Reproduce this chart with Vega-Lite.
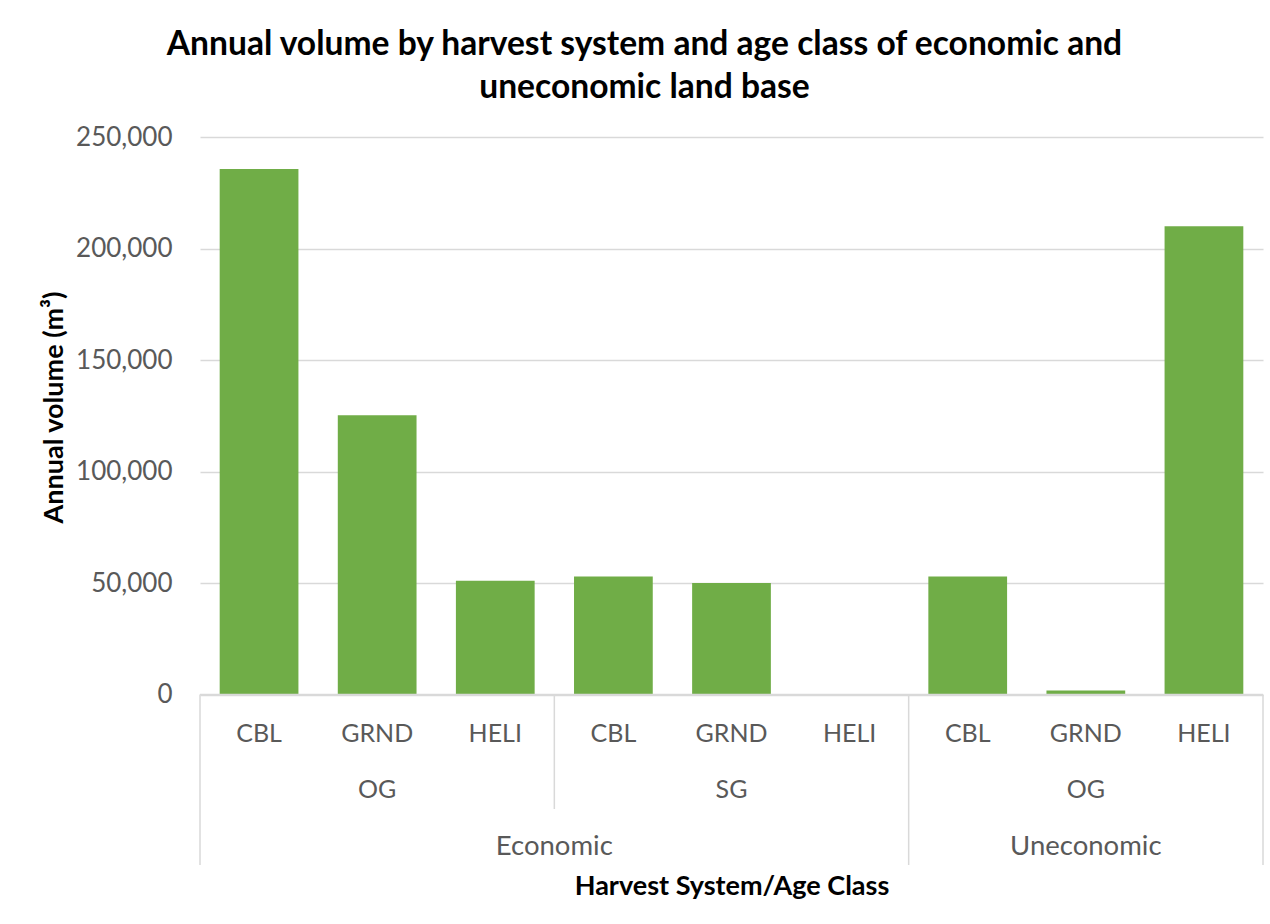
{
  "$schema": "https://vega.github.io/schema/vega-lite/v6.json",
  "autosize": "none",
  "width": 1063,
  "height": 728,
  "padding": {"left": 200, "top": 137, "right": 7, "bottom": 59},
  "background": "white",
  "config": {
    "font": "Lato",
    "view": {"stroke": null}
  },
  "title": {
    "text": ["Annual volume by harvest system and age class of economic and", "uneconomic land base"],
    "fontSize": 33.6,
    "fontWeight": "bold",
    "font": "Lato",
    "color": "#000000",
    "lineHeight": 43,
    "anchor": "middle",
    "dx": -87,
    "offset": 19
  },
  "datasets": {
    "bars": [
      {"id": "E-OG-CBL", "system": "CBL", "age": "OG", "econ": "Economic", "volume": 235700},
      {"id": "E-OG-GRND", "system": "GRND", "age": "OG", "econ": "Economic", "volume": 125300},
      {"id": "E-OG-HELI", "system": "HELI", "age": "OG", "econ": "Economic", "volume": 51000},
      {"id": "E-SG-CBL", "system": "CBL", "age": "SG", "econ": "Economic", "volume": 52900},
      {"id": "E-SG-GRND", "system": "GRND", "age": "SG", "econ": "Economic", "volume": 50000},
      {"id": "E-SG-HELI", "system": "HELI", "age": "SG", "econ": "Economic", "volume": 0},
      {"id": "U-OG-CBL", "system": "CBL", "age": "OG", "econ": "Uneconomic", "volume": 52900},
      {"id": "U-OG-GRND", "system": "GRND", "age": "OG", "econ": "Uneconomic", "volume": 1800},
      {"id": "U-OG-HELI", "system": "HELI", "age": "OG", "econ": "Uneconomic", "volume": 210000}
    ]
  },
  "layer": [
    {
      "data": {"name": "bars"},
      "mark": {"type": "bar", "color": "#70AD47"},
      "encoding": {
        "x": {
          "field": "id", "type": "nominal", "sort": null,
          "scale": {"paddingInner": 0.3333, "paddingOuter": 0.16667},
          "axis": {"labels": false, "ticks": false, "domain": false, "title": "Harvest System/Age Class", "titleFontSize": 27, "titleFontWeight": "bold", "titleColor": "#000000", "titlePadding": 8, "titleFont": "Lato"}
        },
        "y": {
          "field": "volume", "type": "quantitative",
          "scale": {"domain": [-76400, 250000], "nice": false, "zero": false},
          "axis": {
            "values": [0, 50000, 100000, 150000, 200000, 250000],
            "format": ",d",
            "domain": false, "ticks": false,
            "labelFontSize": 26, "labelColor": "#595959", "labelPadding": 28, "labelFont": "Lato",
            "gridColor": "#D9D9D9", "gridWidth": 1.3,
            "title": "Annual volume (m³)",
            "titleFontSize": 27, "titleFontWeight": "bold", "titleColor": "#000000", "titleFont": "Lato",
            "titleX": -146, "titleY": 270, "titleAngle": -90, "titleAlign": "center", "titleBaseline": "middle"
          }
        }
      }
    },
    {
      "data": {"values": [{}]},
      "mark": {"type": "rule", "color": "#D9D9D9", "strokeWidth": 1.5},
      "encoding": {"y": {"datum": 0}}
    },
    {
      "data": {"values": [{"id": "E-OG-CBL"}, {"id": "U-OG-CBL"}]},
      "mark": {"type": "rule", "color": "#D9D9D9", "strokeWidth": 1.5},
      "encoding": {
        "x": {"field": "id", "type": "nominal", "bandPosition": -0.25},
        "y": {"datum": 0},
        "y2": {"datum": -76400}
      }
    },
    {
      "data": {"values": [{"id": "U-OG-HELI"}]},
      "mark": {"type": "rule", "color": "#D9D9D9", "strokeWidth": 1.5},
      "encoding": {
        "x": {"field": "id", "type": "nominal", "bandPosition": 1.25},
        "y": {"datum": 0},
        "y2": {"datum": -76400}
      }
    },
    {
      "data": {"values": [{"id": "E-SG-CBL"}]},
      "mark": {"type": "rule", "color": "#D9D9D9", "strokeWidth": 1.5},
      "encoding": {
        "x": {"field": "id", "type": "nominal", "bandPosition": -0.25},
        "y": {"datum": 0},
        "y2": {"datum": -51300}
      }
    },
    {
      "data": {"name": "bars"},
      "mark": {"type": "text", "fontSize": 25, "color": "#595959", "baseline": "middle", "align": "center"},
      "encoding": {
        "x": {"field": "id", "type": "nominal"},
        "y": {"datum": -17700},
        "text": {"field": "system"}
      }
    },
    {
      "data": {"values": [{"id": "E-OG-GRND", "label": "OG"}, {"id": "E-SG-GRND", "label": "SG"}, {"id": "U-OG-GRND", "label": "OG"}]},
      "mark": {"type": "text", "fontSize": 25, "color": "#595959", "baseline": "middle", "align": "center"},
      "encoding": {
        "x": {"field": "id", "type": "nominal"},
        "y": {"datum": -42800},
        "text": {"field": "label"}
      }
    },
    {
      "data": {"values": [{"id": "E-SG-CBL", "label": "Economic"}]},
      "mark": {"type": "text", "fontSize": 27.5, "color": "#595959", "baseline": "middle", "align": "center"},
      "encoding": {
        "x": {"field": "id", "type": "nominal", "bandPosition": -0.25},
        "y": {"datum": -68300},
        "text": {"field": "label"}
      }
    },
    {
      "data": {"values": [{"id": "U-OG-GRND", "label": "Uneconomic"}]},
      "mark": {"type": "text", "fontSize": 27.5, "color": "#595959", "baseline": "middle", "align": "center"},
      "encoding": {
        "x": {"field": "id", "type": "nominal"},
        "y": {"datum": -68300},
        "text": {"field": "label"}
      }
    }
  ]
}
